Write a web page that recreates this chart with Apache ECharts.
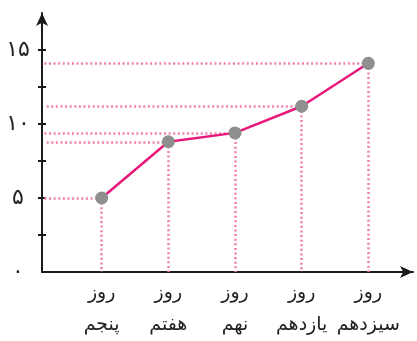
<!DOCTYPE html>
<html>
<head>
<meta charset="utf-8">
<script src="https://cdn.jsdelivr.net/npm/echarts@6/dist/echarts.min.js"></script>
<style>
html,body{margin:0;padding:0;background:#fff;}
#c{width:417px;height:341px;}
</style>
</head>
<body>
<div id="c"></div>
<script>
// ---- data ----
const dayWord = 'روز';
const ordinals = ['پنجم', 'هفتم', 'نهم', 'یازدهم', 'سیزدهم'];
const values = [5, 8.8, 9.4, 11.2, 14.1];
const yLabelValues = [0, 5, 10, 15];
const yLabelTexts = ['۰', '۵', '۱۰', '۱۵'];
const yTickValues = [2.5, 5, 7.5, 10, 12.5, 15];

const xIdx = ordinals.map((_, i) => i);
const xMin = -0.895, xMax = 4.67;
const yMin = 0, yMax = 17.5;

const pink = '#f27fb2';
const dotted = { color: pink, width: 2.5, type: [2, 2.6] };

const hLines = values.map((v, i) => [{ coord: [i, v] }, { coord: [xMin + 0.03, v] }]);
const vLines = values.map((v, i) => [{ coord: [i, v] }, { coord: [i, 0] }]);

const chart = echarts.init(document.getElementById('c'), null, { renderer: 'canvas' });
chart.setOption({
  animation: false,
  backgroundColor: '#ffffff',
  grid: { left: 42, right: 4, top: 13, bottom: 65.5, containLabel: false },
  xAxis: {
    type: 'value', min: xMin, max: xMax,
    splitLine: { show: false },
    axisLine: { show: true, onZero: false, lineStyle: { color: '#1a1a1a', width: 2 }, symbol: ['none', 'arrow'], symbolSize: [9, 13] },
    axisTick: { show: false },
    axisLabel: {
      customValues: xIdx,
      formatter: v => dayWord + '\n' + ordinals[Math.round(v)],
      fontFamily: 'DejaVu Sans', fontSize: 19, lineHeight: 32, color: '#222', margin: 5
    }
  },
  yAxis: [{
    type: 'value', min: yMin, max: yMax,
    splitLine: { show: false },
    axisLine: { show: true, onZero: false, lineStyle: { color: '#1a1a1a', width: 2 }, symbol: ['none', 'arrow'], symbolSize: [9, 13] },
    axisTick: { show: true, customValues: yTickValues, length: 4, lineStyle: { color: '#1a1a1a', width: 2 } },
    axisLabel: {
      customValues: yLabelValues,
      formatter: v => yLabelTexts[yLabelValues.indexOf(v)],
      fontFamily: 'DejaVu Sans', fontSize: 22, color: '#222', align: 'center', margin: 24
    }
  }, {
    type: 'value', min: yMin, max: yMax, position: 'left',
    splitLine: { show: false },
    axisLine: { show: false, onZero: false },
    axisTick: { show: true, inside: true, customValues: yTickValues, length: 4, lineStyle: { color: '#1a1a1a', width: 2 } },
    axisLabel: { show: false }
  }],
  series: [{
    type: 'line',
    data: values.map((v, i) => [i, v]),
    symbol: 'circle', symbolSize: 13,
    itemStyle: { color: '#8f8f8f' },
    lineStyle: { color: '#e8197a', width: 2.5 },
    z: 3,
    markLine: {
      silent: true, symbol: 'none', label: { show: false },
      lineStyle: dotted,
      z: 1,
      data: hLines.concat(vLines)
    }
  }]
});
</script>
</body>
</html>
